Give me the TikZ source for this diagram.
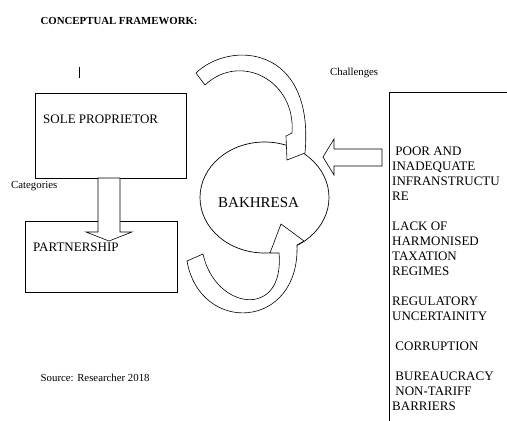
\documentclass[tikz,border=0pt]{standalone}
\usepackage{fontspec}
\setmainfont{Liberation Serif}
\usetikzlibrary{shapes.geometric}
\begin{document}
\begin{tikzpicture}[x=1pt,y=-1pt,
  box/.style={draw=black, line width=0.8pt, inner sep=0pt, anchor=north west},
  blockarrow/.style={draw=black, fill=white, line width=0.6pt, line join=miter},
  small/.style={font=\fontsize{10.8}{13}\selectfont, inner sep=0pt, anchor=base west},
  big/.style={font=\fontsize{13}{15}\selectfont, inner sep=0pt, anchor=base west},
]
\useasboundingbox (0,0) rectangle (507,421);

% title and labels
\node[small, font=\fontsize{10.8}{13}\selectfont\bfseries] (title) at (40.5,24.5) {CONCEPTUAL FRAMEWORK:};
\draw[line width=0.7pt] (79,67) -- (79,78);
\node[small] (chal) at (330,75) {Challenges};
\node[small] (cat) at (11,188) {Categories};
\node[small] (src) at (40.5,381) {Source: Researcher 2018};

% boxes
\node[box, minimum width=151pt, minimum height=85pt] (sole) at (35,93) {};
\node[big] (soletxt) at (43,123) {SOLE PROPRIETOR};
\node[box, minimum width=152pt, minimum height=71pt] (part) at (25,221) {};
\node[big] (parttxt) at (33,251) {PARTNERSHIP};

% central ellipse
\node[draw=black, line width=0.7pt, ellipse, minimum width=129pt, minimum height=111pt, inner sep=0pt] (bak) at (264.5,197.5) {};
\node[big, font=\fontsize{15}{17}\selectfont] (baktxt) at (218,207) {BAKHRESA};

% challenges box (open)
\coordinate (cbR) at (507,92);
\coordinate (cbL) at (389,92);
\coordinate (cbB) at (389,421);
\draw[line width=0.8pt] (cbR) -- (cbL) -- (cbB);
\foreach \t [count=\i] in {{\ POOR AND},INADEQUATE,INFRANSTRUCTU,RE,{},LACK OF,HARMONISED,TAXATION,REGIMES,{},REGULATORY,UNCERTAINITY,{},{\ CORRUPTION},{},{\ BUREAUCRACY},{\ NON-TARIFF},BARRIERS}
  \node[big] (line\i) at (392,{140+15*\i}) {\t};

% block arrows
\draw[blockarrow] (98,178) -- (98,232) -- (86,232) -- (109,241) -- (132,232) -- (120,232) -- (120,178) -- cycle;
\draw[blockarrow] (382,149) -- (334,149) -- (334,139) -- (323,157) -- (334,175) -- (334,166) -- (382,166) -- cycle;
\draw[blockarrow] (196,73) .. controls (230,40) and (315,45) .. (305,153)
  -- (287,160) -- (286,136) -- (292,133)
  .. controls (296,80) and (240,52) .. (205,85) -- cycle;
\draw[blockarrow] (187,261) .. controls (200,335) and (300,330) .. (297,245)
  -- (304,241) -- (281,224) -- (270,253) -- (279,253)
  .. controls (285,320) and (215,310) .. (203,254) -- cycle;
\end{tikzpicture}
\end{document}
